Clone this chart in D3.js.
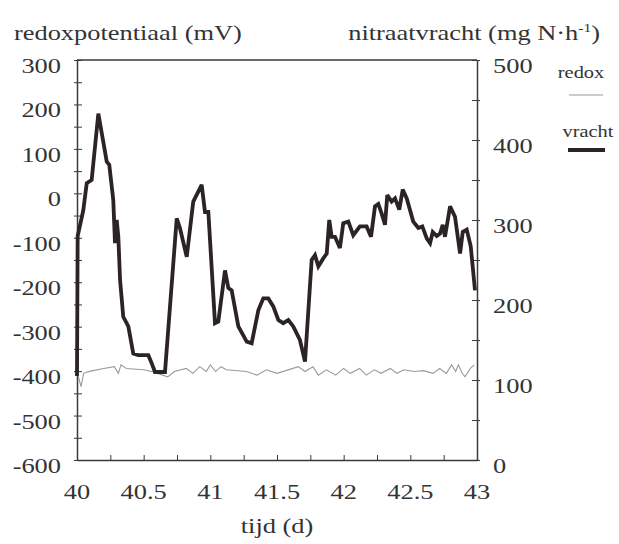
<!DOCTYPE html>
<html>
<head>
<meta charset="utf-8">
<script src="https://cdn.jsdelivr.net/npm/d3@7"></script>
<style>
  html, body { margin: 0; padding: 0; background: #ffffff; }
  svg { display: block; }
  text { font-family: "Liberation Serif", "Times New Roman", serif; fill: #333; }
</style>
</head>
<body>
<svg id="chart" width="619" height="544"></svg>
<script>
// Time axis (days)
const timeTicks = [40, 40.5, 41, 41.5, 42, 42.5, 43];
const timeTickLabels = ["40", "40.5", "41", "41.5", "42", "42.5", "43"];
// Left axis: redox potential (mV)
const redoxTicks = [300, 200, 100, 0, -100, -200, -300, -400, -500, -600];
// Right axis: nitrate load (mg N/h)
const loadTicks = [500, 400, 300, 200, 100, 0];

// Nitrate load series
const loadTime = [40.00, 40.005, 40.047, 40.073, 40.110, 40.160, 40.223, 40.242, 40.272, 40.285,
  40.298, 40.310, 40.323, 40.347, 40.385, 40.422, 40.460, 40.535, 40.560, 40.585,
  40.660, 40.748, 40.772, 40.823, 40.872, 40.935, 40.960, 40.985, 41.035, 41.060,
  41.110, 41.135, 41.160, 41.210, 41.273, 41.310, 41.360, 41.397, 41.435, 41.472,
  41.510, 41.547, 41.585, 41.622, 41.672, 41.710, 41.760, 41.785, 41.810, 41.847,
  41.873, 41.892, 41.910, 41.935, 41.972, 41.997, 42.035, 42.072, 42.122, 42.172,
  42.205, 42.235, 42.260, 42.285, 42.310, 42.327, 42.360, 42.385, 42.417, 42.443,
  42.473, 42.522, 42.560, 42.590, 42.623, 42.648, 42.668, 42.698, 42.723, 42.743,
  42.760, 42.798, 42.835, 42.873, 42.893, 42.923, 42.953, 42.985];
const loadValue = [105, 280, 312, 346, 350, 433, 373, 369, 325, 271,
  300, 279, 225, 179, 167, 133, 131, 131, 121, 110,
  110, 302, 290, 254, 323, 344, 310, 310, 171, 173,
  237, 215, 212, 167, 148, 146, 187, 202, 202, 192,
  175, 171, 175, 167, 150, 123, 250, 256, 242, 252,
  258, 300, 279, 279, 265, 296, 298, 281, 292, 292,
  279, 317, 320, 308, 294, 331, 323, 327, 313, 338,
  327, 298, 290, 292, 277, 271, 285, 280, 283, 294,
  279, 317, 304, 258, 285, 288, 267, 212];

// Redox potential series
const redoxTime = [40.00, 40.03, 40.05, 40.10, 40.20, 40.28, 40.31, 40.33, 40.37, 40.50,
  40.56, 40.68, 40.73, 40.82, 40.87, 40.92, 40.97, 41.00, 41.04, 41.08,
  41.12, 41.27, 41.35, 41.42, 41.50, 41.66, 41.71, 41.77, 41.81, 41.87,
  41.94, 42.00, 42.05, 42.12, 42.17, 42.23, 42.28, 42.35, 42.40, 42.45,
  42.53, 42.60, 42.67, 42.72, 42.77, 42.81, 42.84, 42.86, 42.89, 42.91,
  42.95, 42.98];
const redoxValue = [-400, -435, -405, -400, -394, -390, -405, -386, -394, -397,
  -401, -413, -401, -394, -405, -390, -401, -386, -401, -390,
  -397, -401, -409, -397, -405, -390, -401, -390, -409, -397,
  -409, -394, -405, -394, -409, -397, -405, -394, -405, -397,
  -401, -399, -405, -394, -405, -386, -401, -386, -405, -413,
  -394, -386];

const svg = d3.select("#chart");
const axisColor = "#3a3a3a";
const sx = 1.2; // horizontal stretch of the serif type

const x = d3.scaleLinear().domain([40, 43]).range([77, 477]);
const yL = d3.scaleLinear().domain([-600, 300]).range([460, 60]);
const yR = d3.scaleLinear().domain([0, 500]).range([460, 60]);

function label(txt, px, py, size, anchor) {
  return svg.append("text")
    .attr("transform", `translate(${px},${py}) scale(${sx},1)`)
    .attr("text-anchor", anchor)
    .attr("font-size", size)
    .text(txt);
}

// Frame top edge
svg.append("line").attr("x1", x(40)).attr("x2", x(43)).attr("y1", yL(300)).attr("y2", yL(300))
  .attr("stroke", axisColor).attr("stroke-width", 1.5);

// Bottom axis, ticks pointing inward
const gx = svg.append("g").attr("transform", `translate(0,${yL(-600)})`)
  .call(d3.axisBottom(x).tickValues(d3.range(40, 43.001, 0.25)).tickSizeInner(-5).tickSizeOuter(0).tickFormat(""));
// Left axis
const gl = svg.append("g").attr("transform", `translate(${x(40)},0)`)
  .call(d3.axisLeft(yL).tickValues(d3.range(-600, 300.001, 50)).tickSizeInner(-5).tickSizeOuter(0).tickFormat(""));
// Right axis
const gr = svg.append("g").attr("transform", `translate(${x(43)},0)`)
  .call(d3.axisRight(yR).tickValues(d3.range(0, 500.001, 50)).tickSizeInner(-5).tickSizeOuter(0).tickFormat(""));

[gx, gl, gr].forEach(g => {
  g.select(".domain").attr("stroke", axisColor).attr("stroke-width", 1.5);
  g.selectAll(".tick line").attr("stroke", axisColor).attr("stroke-width", 1);
});
// ticks cross slightly outward on the vertical axes
gl.selectAll(".tick line").attr("x1", -3);
gr.selectAll(".tick line").attr("x1", -5).attr("x2", 3);

// Tick labels
redoxTicks.forEach(v => label(String(v), 61, yL(v) + 13, 22, "end"));
loadTicks.forEach(v => label(String(v), 493, yR(v) + 13, 22, "start"));
timeTicks.forEach((t, i) => label(timeTickLabels[i], x(t), 499, 22, "middle"));

// Axis titles
label("redoxpotentiaal (mV)", 14, 40, 22, "start");
const rt = label("", 600, 40, 22, "end");
rt.text(null);
rt.append("tspan").text("nitraatvracht (mg N·h");
rt.append("tspan").attr("font-size", 13).attr("dy", -8).text("-1");
rt.append("tspan").attr("dy", 8).text(")");
label("tijd (d)", 277, 533, 22, "middle");

// Series
const redoxData = redoxTime.map((t, i) => ({ t, v: redoxValue[i] }));
const loadData = loadTime.map((t, i) => ({ t, v: loadValue[i] }));

svg.append("path").datum(redoxData)
  .attr("fill", "none").attr("stroke", "#9a9a9a").attr("stroke-width", 1.1)
  .attr("d", d3.line().x(d => x(d.t)).y(d => yL(d.v)));

svg.append("path").datum(loadData)
  .attr("fill", "none").attr("stroke", "#2b2326").attr("stroke-width", 3.8)
  .attr("stroke-linejoin", "miter").attr("stroke-miterlimit", 3)
  .attr("d", d3.line().x(d => x(d.t)).y(d => yR(d.v)));

// Legend
label("redox", 581, 78, 17, "middle");
svg.append("line").attr("x1", 569).attr("x2", 603).attr("y1", 95).attr("y2", 95)
  .attr("stroke", "#9a9a9a").attr("stroke-width", 1.1);
label("vracht", 588, 137, 17, "middle");
svg.append("line").attr("x1", 568).attr("x2", 605).attr("y1", 150).attr("y2", 150)
  .attr("stroke", "#2b2326").attr("stroke-width", 3.8);
</script>
</body>
</html>
